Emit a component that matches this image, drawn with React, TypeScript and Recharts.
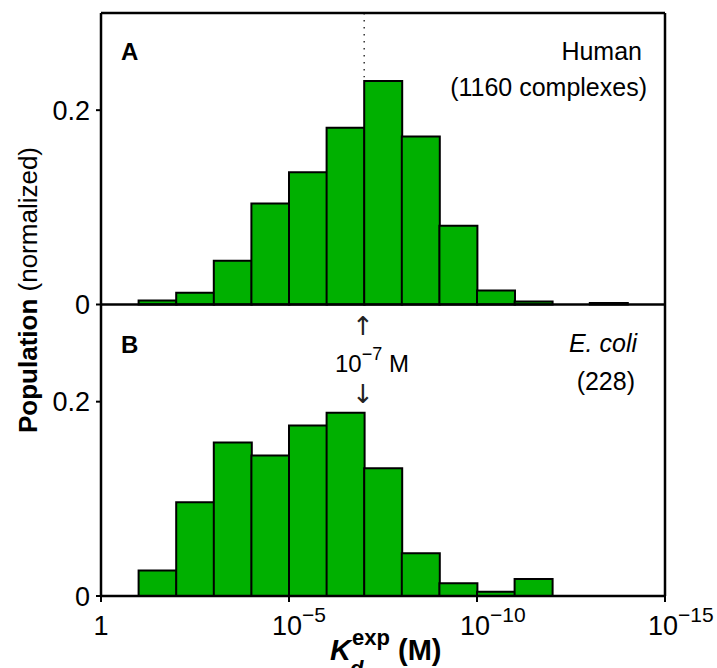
import { BarChart, Bar, XAxis, YAxis, ReferenceLine } from 'recharts';

// bins are decades of Kd: bin i covers 10^-i .. 10^-(i+1) M
const bins = ['0', '1', '2', '3', '4', '5', '6', '7', '8', '9', '10', '11', '12', '13', '14'];
const humanShare = [0, 0.004, 0.012, 0.045, 0.104, 0.136, 0.182, 0.23, 0.173, 0.081, 0.0145, 0.003, 0, 0.0015, 0];
const ecoliShare = [0, 0.0263, 0.0965, 0.158, 0.1447, 0.1754, 0.1886, 0.1316, 0.0439, 0.0132, 0.0044, 0.0175, 0, 0, 0];
const decadeTicks = [0, 5, 10, 15];
// left axis: upper panel on [-0.3, 0.3] (0 in the middle), lower panel shifted by -0.3
const populationTicks = [-0.3, -0.1, 0, 0.2];
const markerDecade = 7;

// mid = centre of the bin in decades (-log10 Kd)
const data = bins.map((bin, i) => ({ bin, mid: Number(bin) + 0.5, human: humanShare[i], ecoli: ecoliShare[i] }));

const green = '#00b000';
const font = '"Liberation Sans", Arial, Helvetica, sans-serif';

function DecadeTick(props: any) {
  const { x, y, payload } = props;
  const v = payload.value;
  if (v === 0) {
    return (
      <text x={x} y={y} dy={31} textAnchor="middle" fontSize={27} fill="#000">1</text>
    );
  }
  return (
    <text x={x - 17} y={y} dy={31} fontSize={27} fill="#000">
      10<tspan dy={-13} fontSize={21}>{'\u2212' + v}</tspan>
    </text>
  );
}

function popLabel(v: number) {
  const shown = v < 0 ? v + 0.3 : v;
  return String(Math.round(shown * 10) / 10);
}

export default function App() {
  return (
    <div style={{ position: 'absolute', left: 0, top: 0, fontFamily: font }}>
      <BarChart
        width={717}
        height={668}
        data={data}
        barCategoryGap={0}
        barGap={0}
        margin={{ top: 12, right: 51, bottom: 0, left: 0 }}
      >
        <XAxis xAxisId="a" dataKey="bin" hide height={0} />
        <XAxis xAxisId="b" dataKey="bin" hide height={0} />
        <XAxis
          xAxisId="n"
          dataKey="mid"
          type="number"
          domain={[0, 15]}
          allowDataOverflow
          ticks={decadeTicks}
          height={72}
          tick={<DecadeTick />}
          tickSize={6}
          axisLine={{ stroke: '#000', strokeWidth: 2.5 }}
          tickLine={{ stroke: '#000', strokeWidth: 2 }}
        />
        <XAxis
          xAxisId="top"
          dataKey="mid"
          orientation="top"
          type="number"
          domain={[0, 15]}
          allowDataOverflow
          height={1}
          tick={false}
          tickLine={false}
          axisLine={{ stroke: '#000', strokeWidth: 2.5 }}
        />
        <YAxis
          yAxisId="a"
          domain={[-0.3, 0.3]}
          allowDataOverflow
          ticks={populationTicks}
          tickFormatter={popLabel}
          width={101}
          tickSize={5}
          tickMargin={6}
          tick={{ fontSize: 27, fill: '#000' }}
          axisLine={{ stroke: '#000', strokeWidth: 2.5 }}
          tickLine={{ stroke: '#000', strokeWidth: 2 }}
        />
        <YAxis yAxisId="b" domain={[0, 0.6]} allowDataOverflow hide width={0} />
        <YAxis
          yAxisId="r"
          orientation="right"
          domain={[0, 1]}
          width={1}
          tick={false}
          tickLine={false}
          axisLine={{ stroke: '#000', strokeWidth: 2.5 }}
        />
        <Bar
          dataKey="human"
          xAxisId="a"
          yAxisId="a"
          fill={green}
          stroke="#000"
          strokeWidth={2}
          isAnimationActive={false}
        />
        <Bar
          dataKey="ecoli"
          xAxisId="b"
          yAxisId="b"
          fill={green}
          stroke="#000"
          strokeWidth={2}
          isAnimationActive={false}
        />
        <ReferenceLine xAxisId="n" yAxisId="a" y={0} stroke="#000" strokeWidth={2.5} />
        <ReferenceLine
          xAxisId="n"
          yAxisId="a"
          segment={[{ x: markerDecade, y: 0.3 }, { x: markerDecade, y: humanShare[markerDecade] + 0.004 }]}
          stroke="#333"
          strokeWidth={1.5}
          strokeDasharray="1.5 5.5"
        />

        <text x={121} y={60} fontSize={24} fontWeight="bold" fill="#000">A</text>
        <text x={121} y={353} fontSize={24} fontWeight="bold" fill="#000">B</text>
        <text x={642} y={60} fontSize={25} textAnchor="end" fill="#000">Human</text>
        <text x={647} y={96} fontSize={25} textAnchor="end" fill="#000">(1160 complexes)</text>
        <text x={637} y={352} fontSize={25} textAnchor="end" fontStyle="italic" fill="#000">E. coli</text>
        <text x={635} y={390} fontSize={25} textAnchor="end" fill="#000">(228)</text>
        <text x={363} y={335} fontSize={26} textAnchor="middle" fontFamily="DejaVu Sans" fill="#222">{'\u2191'}</text>
        <text x={335} y={372} fontSize={24} fill="#000">
          10<tspan dy={-12} fontSize={18}>{'\u22127'}</tspan>
          <tspan dy={12}> M</tspan>
        </text>
        <text x={363} y={403} fontSize={26} textAnchor="middle" fontFamily="DejaVu Sans" fill="#222">{'\u2193'}</text>

        <text transform="translate(37 290) rotate(-90)" textAnchor="middle" fontSize={26} fill="#000">
          <tspan fontWeight="bold">Population</tspan> (normalized)
        </text>

        <text x={330} y={660} fontSize={29} fontWeight="bold" fill="#000">
          <tspan fontStyle="italic">K</tspan>
          <tspan x={352} y={645} fontSize={22}>exp</tspan>
          <tspan x={350} y={676} fontSize={22} fontStyle="italic">d</tspan>
          <tspan x={398} y={660}>(M)</tspan>
        </text>
      </BarChart>
    </div>
  );
}
